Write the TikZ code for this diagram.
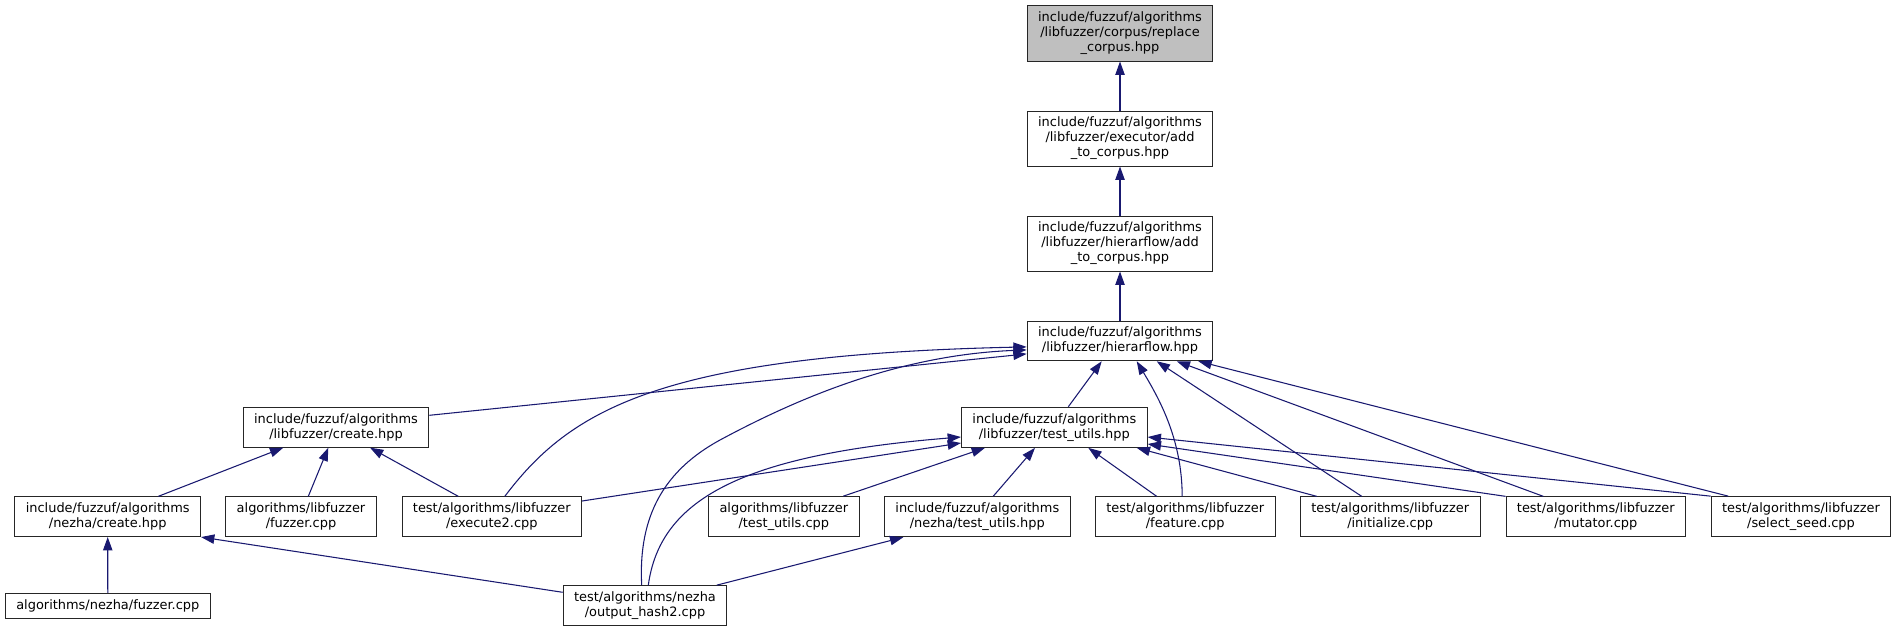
\documentclass[tikz,border=0pt]{standalone}
\usepackage{fontspec}
\setmainfont{DejaVu Sans}
\usetikzlibrary{arrows.meta,positioning,calc}
\definecolor{edgeblue}{HTML}{191970}
\definecolor{boxgray}{HTML}{BFBFBF}

\begin{document}
\begin{tikzpicture}[x=0.75pt,y=-0.75pt,node distance=36.75pt,
  box/.style={draw=black!85,fill=white,align=center,font=\fontsize{9.7}{11.2}\selectfont,inner xsep=8.2pt,inner ysep=4.6pt,line width=0.75pt},
  arr/.style={-{Triangle[length=10pt,width=7pt]},draw=edgeblue,line width=0.8pt}]
\useasboundingbox (0,0) rectangle (1897,632);
% header chain
\node[box,fill=boxgray](corpus) at (1120,33.5){include/fuzzuf/algorithms\\/libfuzzer/corpus/replace\\\_corpus.hpp};
\node[box,below=of corpus](execadd){include/fuzzuf/algorithms\\/libfuzzer/executor/add\\\_to\_corpus.hpp};
\node[box,below=of execadd](hieradd){include/fuzzuf/algorithms\\/libfuzzer/hierarflow/add\\\_to\_corpus.hpp};
\node[box,below=of hieradd](hier){include/fuzzuf/algorithms\\/libfuzzer/hierarflow.hpp};
% middle
\node[box](create) at (336,427.3){include/fuzzuf/algorithms\\/libfuzzer/create.hpp};
\node[box](tu) at (1054.3,427.3){include/fuzzuf/algorithms\\/libfuzzer/test\_utils.hpp};
% lower row
\node[box](ncreate) at (107.7,516.7){include/fuzzuf/algorithms\\/nezha/create.hpp};
\node[box](lffuzzer) at (301,516.7){algorithms/libfuzzer\\/fuzzer.cpp};
\node[box](exec2) at (491.8,516.7){test/algorithms/libfuzzer\\/execute2.cpp};
\node[box](tucpp) at (783.8,516.7){algorithms/libfuzzer\\/test\_utils.cpp};
\node[box](ntu) at (977.3,516.7){include/fuzzuf/algorithms\\/nezha/test\_utils.hpp};
\node[box](feature) at (1185.2,516.7){test/algorithms/libfuzzer\\/feature.cpp};
\node[box](init) at (1390.2,516.7){test/algorithms/libfuzzer\\/initialize.cpp};
\node[box](mutator) at (1595.8,516.7){test/algorithms/libfuzzer\\/mutator.cpp};
\node[box](seed) at (1801,516.7){test/algorithms/libfuzzer\\/select\_seed.cpp};
% bottom
\node[box](nfuzzer) at (107.8,605.8){algorithms/nezha/fuzzer.cpp};
\node[box](oh2) at (645,605.7){test/algorithms/nezha\\/output\_hash2.cpp};
% edges into the header chain
\draw[arr](execadd)--(corpus);
\draw[arr](hieradd)--(execadd);
\draw[arr](hier)--(hieradd);
% into hierarflow.hpp
\draw[arr]($(create.east)+(0,-12)$)--($(hier.west)+(0,13)$);
\draw[arr]($(exec2.north)+(13,0)$) .. controls (570,410) and (660,355) .. ($(hier.west)+(0,6)$);
\draw[arr]($(oh2.north)+(-3.3,0)$) .. controls (638,515) and (665,470) .. (720,440) .. controls (800,397) and (900,355) .. ($(hier.west)+(0,9)$);
\draw[arr]($(tu.north)+(14,0)$)--($(hier.south)+(-18.3,0)$);
\draw[arr]($(feature.north)+(-3,0)$) .. controls (1182,440) and (1160,400) .. ($(hier.south)+(16.7,0)$);
\draw[arr]($(init.north)+(-28.5,0)$)--($(hier.south)+(36.7,0)$);
\draw[arr]($(mutator.north)+(-52.5,0)$)--($(hier.south)+(56.7,0)$);
\draw[arr]($(seed.north)+(-72.7,0)$)--($(hier.south)+(78.3,0)$);
% into libfuzzer/create.hpp
\draw[arr]($(ncreate.north)+(50.6,0)$)--($(create.south)+(-52.7,0)$);
\draw[arr]($(lffuzzer.north)+(7.3,0)$)--($(create.south)+(-7.7,0)$);
\draw[arr]($(exec2.north)+(-33.5,0)$)--($(create.south)+(34,0)$);
% into nezha/create.hpp
\draw[arr](nfuzzer)--(ncreate);
\draw[arr]($(oh2.west)+(0,-13.4)$)--(ncreate.south east);
% into libfuzzer/test_utils.hpp
\draw[arr]($(exec2.east)+(0,-15.7)$)--($(tu.west)+(0,15.7)$);
\draw[arr]($(oh2.north)+(3.3,0)$) .. controls (660,500) and (740,455) .. ($(tu.west)+(0,9.7)$);
\draw[arr]($(tucpp.north)+(59.5,0)$)--($(tu.south)+(-69.3,0)$);
\draw[arr]($(ntu.north)+(16,0)$)--($(tu.south)+(-19.3,0)$);
\draw[arr]($(feature.north)+(-28.5,0)$)--($(tu.south)+(34,0)$);
\draw[arr]($(init.north)+(-73.5,0)$)--($(tu.south)+(82.4,0)$);
\draw[arr](mutator.north west)--($(tu.east)+(0,16.7)$);
\draw[arr](seed.north west)--($(tu.east)+(0,9.7)$);
% into nezha/test_utils.hpp
\draw[arr]($(oh2.north)+(71.7,0)$)--($(ntu.south)+(-74,0)$);
\end{tikzpicture}
\end{document}
